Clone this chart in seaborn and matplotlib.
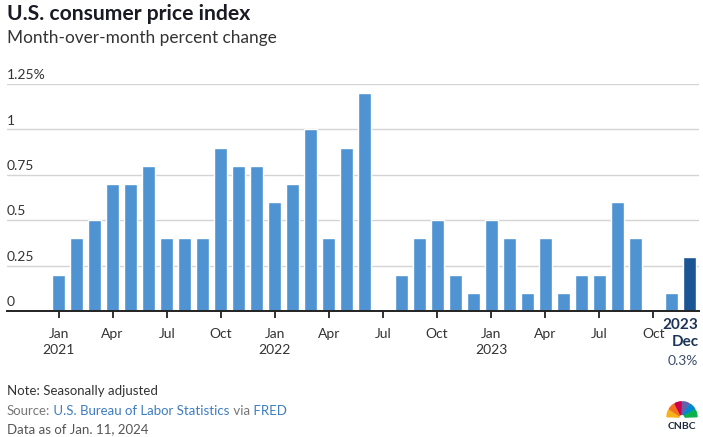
import matplotlib
matplotlib.use("Agg")
import matplotlib.pyplot as plt
import matplotlib.transforms as mtrans
from matplotlib.patches import Wedge
import seaborn as sns
import pandas as pd
import numpy as np

# ---- data ----
months = ["Jan", "Feb", "Mar", "Apr", "May", "Jun", "Jul", "Aug", "Sep", "Oct", "Nov", "Dec"]
years = [2021, 2022, 2023]
values_2021 = [0.2, 0.4, 0.5, 0.7, 0.7, 0.8, 0.4, 0.4, 0.4, 0.9, 0.8, 0.8]
values_2022 = [0.6, 0.7, 1.0, 0.4, 0.9, 1.2, 0.0, 0.2, 0.4, 0.5, 0.2, 0.1]
values_2023 = [0.5, 0.4, 0.1, 0.4, 0.1, 0.2, 0.2, 0.6, 0.4, 0.0, 0.1, 0.3]
y_ticks = [0, 0.25, 0.5, 0.75, 1, 1.25]
y_tick_labels = ["0", "0.25", "0.5", "0.75", "1", "1.25%"]
tick_months = ["Jan", "Apr", "Jul", "Oct"]

labels = [f"{m} {y}" for y in years for m in months]
values = values_2021 + values_2022 + values_2023
highlight = ["latest" if i == len(labels) - 1 else "past" for i in range(len(labels))]
df = pd.DataFrame({"month": labels, "value": values, "kind": highlight})

BAR = "#4f93d2"
DARK = "#1b5593"
TXT = "#333333"

sns.set_theme(style="white")
plt.rcParams["font.family"] = ["Lato", "DejaVu Sans"]

fig = plt.figure(figsize=(7.03, 4.37), dpi=100)
W, H = 703, 437
ax = fig.add_axes([7 / W, 1 - 311 / H, 692 / W, 227 / H])

sns.barplot(data=df, x="month", y="value", hue="kind", order=labels,
            palette={"past": BAR, "latest": DARK}, dodge=False, width=0.72,
            legend=False, ax=ax, saturation=1)

ax.set_xlim(-2.86, len(labels) - 1 + 0.53)
ax.set_ylim(0, 1.25)
ax.set_xlabel("")
ax.set_ylabel("")
for s in ["top", "right", "left"]:
    ax.spines[s].set_visible(False)
ax.spines["bottom"].set_color("#222222")
ax.spines["bottom"].set_linewidth(1.4)

# gridlines and y labels above them
ax.set_yticks([])
for yv, yl in zip(y_ticks, y_tick_labels):
    if yv > 0:
        ax.axhline(yv, color="#d4d4d4", lw=1, zorder=0)
    ax.annotate(yl, xy=(0, yv), xycoords=ax.get_yaxis_transform(),
                xytext=(0, 2), textcoords="offset points",
                ha="left", va="bottom", fontsize=10, color=TXT)

# x ticks
tick_pos = [i for i, l in enumerate(labels) if l.split()[0] in tick_months]
tick_lab = []
for i in tick_pos:
    m, y = labels[i].split()
    tick_lab.append(f"{m}\n{y}" if m == "Jan" else m)
ax.set_xticks(tick_pos)
ax.set_xticklabels(tick_lab, fontsize=10, color=TXT, linespacing=1.45)
ax.tick_params(axis="x", direction="out", length=5, width=1.3, color="#222222",
               pad=7, bottom=True)

# latest value annotation
last_i = len(labels) - 1
lm, ly = labels[last_i].split()
trans = mtrans.blended_transform_factory(ax.transData, ax.transAxes)
ax.text(last_i + 0.5, -0.03, f"{ly}\n{lm}", transform=trans, ha="right", va="top",
        fontsize=11, fontweight="bold", color="#1c3557", linespacing=1.25)
ax.text(last_i + 0.5, -0.22, f"{values[last_i]:.1f}%", transform=trans, ha="right",
        va="center", fontsize=10, color="#3b4f6a")

# titles
fig.text(7 / W, 1 - 14 / H, "U.S. consumer price index", fontsize=15.2, fontweight="bold",
         color="#1a1a24", ha="left", va="center")
fig.text(7 / W, 1 - 38 / H, "Month-over-month percent change", fontsize=12.4,
         color="#333333", ha="left", va="center")

# footnotes
fig.text(7 / W, 1 - 391 / H, "Note: Seasonally adjusted", fontsize=9.5, color="#333333",
         ha="left", va="center")
r = fig.canvas.get_renderer()
t1 = fig.text(7 / W, 1 - 411 / H, "Source:", fontsize=9.5, color="#777777",
              ha="left", va="center")
fig.canvas.draw()
bb1 = t1.get_window_extent(r)
t2 = fig.text(bb1.x1 / W, 1 - 411 / H, " U.S. Bureau of Labor Statistics", fontsize=9.5,
              color="#3f7cc0", ha="left", va="center")
fig.canvas.draw()
bb2 = t2.get_window_extent(r)
t3 = fig.text(bb2.x1 / W, 1 - 411 / H, " via", fontsize=9.5, color="#777777",
              ha="left", va="center")
fig.canvas.draw()
bb3 = t3.get_window_extent(r)
fig.text(bb3.x1 / W, 1 - 411 / H, " FRED", fontsize=9.5, color="#3f7cc0",
         ha="left", va="center")
fig.text(7 / W, 1 - 429 / H, "Data as of Jan. 11, 2024", fontsize=9.5, color="#555555",
         ha="left", va="center")

# CNBC logo (simple peacock)
lax = fig.add_axes([664 / W, 1 - 435 / H, 36 / W, 34 / H])
lax.set_xlim(-1.2, 1.2)
lax.set_ylim(-1.15, 1.05)
lax.axis("off")
cols = ["#f6b21b", "#f37021", "#cc004c", "#6460aa", "#0089d0", "#0db14b"]
for k, c in enumerate(cols):
    a0 = 180 - k * 30
    lax.add_patch(Wedge((0, 0), 1.0, a0 - 28, a0 - 2, width=0.8, color=c))
lax.text(0, -0.62, "CNBC", ha="center", va="center", fontsize=7.5, fontweight="bold",
         color="#1e2a3a")

fig.savefig("out.png", dpi=100)
